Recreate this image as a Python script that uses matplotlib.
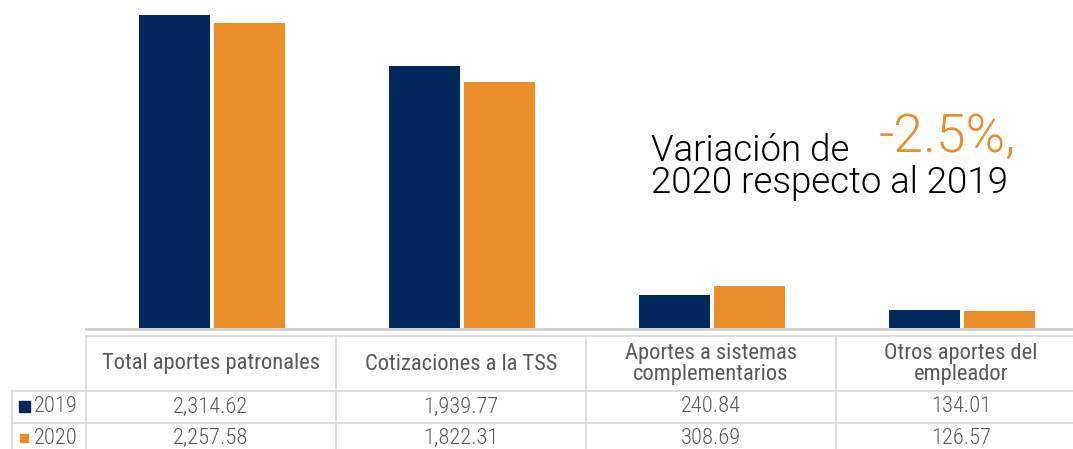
import numpy as np
import matplotlib.pyplot as plt

categories = ["Total aportes patronales", "Cotizaciones a la TSS",
              "Aportes a sistemas\ncomplementarios", "Otros aportes del\nempleador"]
series_names = ["2019", "2020"]
vals_2019 = [2314.62, 1939.77, 240.84, 134.01]
vals_2020 = [2257.58, 1822.31, 308.69, 126.57]

NAVY = "#01295e"
ORANGE = "#ea8e2c"
GRAY_TXT = "#595959"
GRID = "#d9d9d9"

COND = ["Roboto Condensed", "Liberation Sans Narrow", "Roboto", "DejaVu Sans"]
plt.rcParams['font.family'] = COND

W, H = 1073, 449
fig = plt.figure(figsize=(W / 100, H / 100), dpi=100)

def fx(px):
    return px / W

def fy(py):
    return 1 - py / H

# plot area: baseline at y=328px, categories from x=87 to 1087px
ax = fig.add_axes([fx(87), fy(328), fx(1000), 328 / H])
x = np.arange(len(categories))
bw = 0.284
ax.bar(x - bw / 2 - 0.007, vals_2019, bw, color=NAVY)
ax.bar(x + bw / 2 + 0.007, vals_2020, bw, color=ORANGE)
ax.set_xlim(-0.5, len(categories) - 0.5)
ax.set_ylim(0, 2426)
ax.axis("off")

# baseline
fig.add_artist(plt.Line2D([fx(86), 1], [fy(329), fy(329)], color="#d0d0d0", lw=2))

# data table
col_edges = [86, 336, 586, 836, 1086]
top, r1, r2, bot = 336, 391, 423, 460
for e in col_edges:
    fig.add_artist(plt.Line2D([fx(e), fx(e)], [fy(top), fy(bot)], color=GRID, lw=1.2))
fig.add_artist(plt.Line2D([fx(12), fx(12)], [fy(r1), fy(bot)], color=GRID, lw=1.2))
fig.add_artist(plt.Line2D([fx(86), 1], [fy(top), fy(top)], color=GRID, lw=1.2))
for r in (r1, r2):
    fig.add_artist(plt.Line2D([fx(12), 1], [fy(r), fy(r)], color=GRID, lw=1.2))

for i, cat in enumerate(categories):
    cx = (col_edges[i] + col_edges[i + 1]) / 2
    fig.text(fx(cx), fy(364), cat, ha="center", va="center", fontsize=16.2,
             color=GRAY_TXT, linespacing=1.0)
    fig.text(fx(cx), fy(407), f"{vals_2019[i]:,.2f}", ha="center", va="center",
             fontsize=16.2, color=GRAY_TXT, fontweight=300)
    fig.text(fx(cx), fy(438), f"{vals_2020[i]:,.2f}", ha="center", va="center",
             fontsize=16.2, color=GRAY_TXT, fontweight=300)

for name, col, ry, sq in zip(series_names, [NAVY, ORANGE], [406, 438], [11, 8]):
    fig.patches.append(plt.Rectangle((fx(24 - sq / 2), fy(ry + sq / 2)), fx(sq), sq / H,
                                     transform=fig.transFigure, color=col))
    fig.text(fx(34), fy(ry), name, ha="left", va="center", fontsize=16.2,
             color=GRAY_TXT, fontweight=300)

# annotation (baseline of last line at y=193px)
ANN = ["Roboto", "DejaVu Sans"]
fig.text(fx(651), fy(193), "Variación de\n2020 respecto al 2019", fontsize=26.4,
         color="black", fontweight=300, va="baseline", ha="left",
         linespacing=0.85, family=ANN)
fig.text(fx(879), fy(152), "-2.5%,", fontsize=38.5, color=ORANGE,
         fontweight=300, va="baseline", family=ANN)

fig.savefig("out.png", dpi=100)
